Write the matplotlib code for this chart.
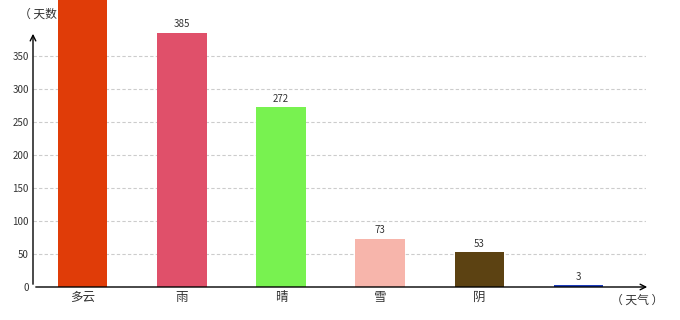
import matplotlib
matplotlib.use("Agg")
import matplotlib.pyplot as plt

plt.rcParams['font.family'] = ['Noto Sans CJK SC', 'DejaVu Sans']

# weather categories and day counts (first bar runs off the top of the chart)
categories = ['多云', '雨', '晴', '雪', '阴', '']
days = [480, 385, 272, 73, 53, 3]
colors = ['#e03c08', '#e0506a', '#78f250', '#f7b5ab', '#5c4212', '#1c3cbc']
yticks = [0, 50, 100, 150, 200, 250, 300, 350]

fig = plt.figure(figsize=(6.8, 3.2), dpi=100)
ax = fig.add_axes([33 / 680, 1 - 287 / 320, (646 - 33) / 680, (287 - 30) / 320])
ax.patch.set_visible(False)

x = list(range(len(categories)))
ax.bar(x, days, width=0.5, color=colors, zorder=3, clip_on=False)

for xi, v in zip(x, days):
    ax.annotate(str(v), (xi, v), xytext=(0, 2.5), textcoords='offset points',
                ha='center', va='bottom', fontsize=7, color='#333333',
                annotation_clip=True, zorder=4)

ax.set_xlim(-0.5, 5.68)
ax.set_ylim(0, 389)
ax.set_yticks(yticks)
ax.set_xticks(x)
ax.set_xticklabels(categories, fontsize=9, color='#333333')
ax.tick_params(axis='y', length=0, labelsize=7, labelcolor='#333333', pad=3)
ax.tick_params(axis='x', length=0, pad=3)

ax.grid(True, axis='y', linestyle=(0, (3, 2)), color='#cccccc', linewidth=0.8, zorder=0)
for side in ['top', 'right', 'left', 'bottom']:
    ax.spines[side].set_visible(False)

# axes drawn as arrows
ax.annotate('', xy=(650 / 680, 1 - 287 / 320), xytext=(33 / 680, 1 - 287 / 320),
            xycoords='figure fraction',
            arrowprops=dict(arrowstyle='->', color='black', lw=1.0))
ax.annotate('', xy=(33 / 680, 1 - 31 / 320), xytext=(33 / 680, 1 - 287 / 320),
            xycoords='figure fraction',
            arrowprops=dict(arrowstyle='->', color='black', lw=1.0))

fig.text(19 / 680, 1 - 14 / 320, '（ 天数 ）', fontsize=8.5, color='#333333',
         ha='left', va='center', zorder=-1)
fig.text(611 / 680, 1 - 300 / 320, '（ 天气 ）', fontsize=8.5, color='#333333',
         ha='left', va='center')

fig.savefig('out.png', dpi=100)
